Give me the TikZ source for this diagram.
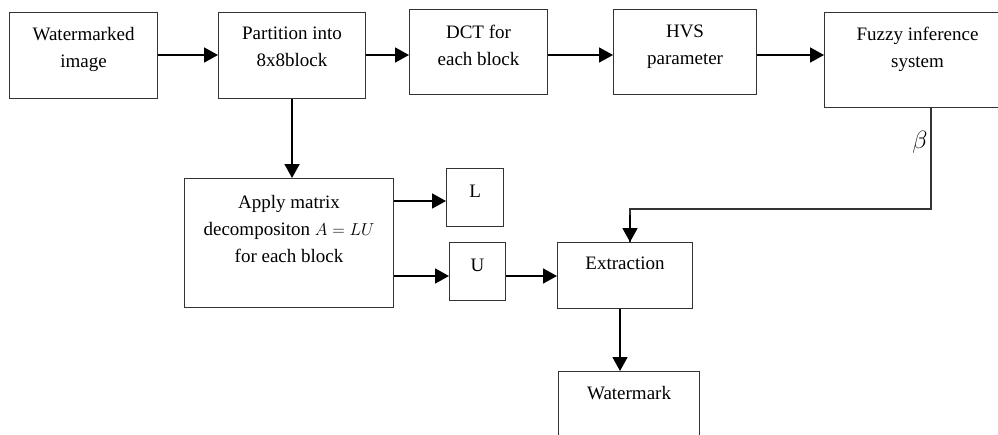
\documentclass[tikz,border=0pt]{standalone}
\usepackage{fontspec}
\setmainfont{Liberation Serif}
\usetikzlibrary{arrows.meta,positioning}

\begin{document}
\begin{tikzpicture}[x=1pt, y=-1pt,
  blk/.style={draw=black!80, line width=1.1pt, inner sep=0pt, anchor=north west},
  txt/.style={inner sep=0pt, align=center, font=\fontsize{19}{27}\selectfont},
  arr/.style={line width=1.8pt, -{Triangle[length=14pt,width=15pt]}}]

  \useasboundingbox (0,0) rectangle (998,434);

  %% boxes, by their top left corner
  \node[blk, minimum width=148pt, minimum height=86pt] (wmimg) at (9,12) {};
  \node[blk, minimum width=147pt, minimum height=86pt] (part) at (218,12) {};
  \node[blk, minimum width=138pt, minimum height=85pt] (dct) at (409,9) {};
  \node[blk, minimum width=143pt, minimum height=85pt] (hvs) at (613,9) {};
  \node[blk, minimum width=190pt, minimum height=95pt] (fis) at (824,12) {};
  \node[blk, minimum width=209pt, minimum height=129pt] (apply) at (184,178) {};
  \node[blk, minimum width=57pt, minimum height=58pt] (lmat) at (446,168) {};
  \node[blk, minimum width=56pt, minimum height=58pt] (umat) at (449,242) {};
  \node[blk, minimum width=135pt, minimum height=66pt] (extr) at (557,242) {};
  \node[blk, minimum width=141pt, minimum height=90pt] (wmk) at (558,371) {};

  %% texts, near the top of each box
  \node[txt, below=15pt of wmimg.north] (wmimgtxt) {Watermarked\\image};
  \node[txt, below=15pt of part.north] (parttxt) {Partition into\\8x8block};
  \node[txt, below=16pt of dct.north] (dcttxt) {DCT for\\each block};
  \node[txt, below=16pt of hvs.north] (hvstxt) {HVS\\parameter};
  \node[txt, below=15pt of fis.north, xshift=-2pt] (fistxt) {Fuzzy inference\\system};
  \node[txt, below=17pt of apply.north] (applytxt) {Apply matrix\\decompositon $A=LU$\\for each block};
  \node[txt, below=17pt of lmat.north] (ltxt) {L};
  \node[txt, below=17pt of umat.north] (utxt) {U};
  \node[txt, below=15pt of extr.north] (extrtxt) {Extraction};
  \node[txt, below=15pt of wmk.north] (wmktxt) {Watermark};

  \node[font=\fontsize{25}{25}\selectfont] (betalbl) at (920,142) {$\beta$};

  %% levels and turns of the connectors
  \coordinate (toplev) at (0,55);
  \coordinate (llev) at (0,201);
  \coordinate (ulev) at (0,276);
  \coordinate (bturn) at (931,209);
  \coordinate (bdrop) at (630,0);
  \coordinate (wdrop) at (620,0);

  \draw[arr] (wmimg.east |- toplev) -- (part.west |- toplev);
  \draw[arr] (part.east |- toplev) -- (dct.west |- toplev);
  \draw[arr] (dct.east |- toplev) -- (hvs.west |- toplev);
  \draw[arr] (hvs.east |- toplev) -- (fis.west |- toplev);
  \draw[arr] (part.south) -- (part.south |- apply.north); %% part -> apply
  \draw[arr] (apply.east |- llev) -- (lmat.west |- llev);
  \draw[arr] (apply.east |- ulev) -- (umat.west |- ulev);
  \draw[arr] (umat.east |- ulev) -- (extr.west |- ulev);
  \draw[draw=black!80, line width=1.1pt] (fis.south -| bturn) -- (bturn) -| (extr.north -| bdrop);
  \draw[arr] (bdrop |- 0,215) -- (extr.north -| bdrop); %% beta -> extraction
  \draw[arr] (extr.south -| wdrop) -- (wmk.north -| wdrop);
\end{tikzpicture}
\end{document}
